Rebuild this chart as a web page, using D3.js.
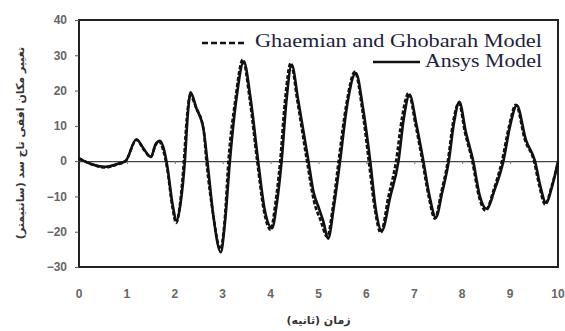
<!DOCTYPE html>
<html>
<head>
<meta charset="utf-8">
<script src="https://cdn.jsdelivr.net/npm/d3@7"></script>
<style>
  body { margin: 0; background: #fff; }
  .tickLabel { font-family: "Liberation Sans", Arial, sans-serif; font-size: 12px; font-weight: bold; fill: #666; }
  .axisTitle { font-family: "DejaVu Sans", "Noto Sans", sans-serif; font-size: 11px; font-weight: bold; fill: #333; }
  .legendText { font-family: "Liberation Serif", "Times New Roman", serif; font-size: 19px; fill: #1e1e3c; }
</style>
</head>
<body>
<div id="chart"></div>
<script>
// time (s) and crest displacement (cm)
var ansysTime = [0, 0.25, 0.55, 0.8, 0.97, 1.2, 1.35, 1.5, 1.6, 1.69, 1.78, 1.85, 1.95, 2.04, 2.12, 2.21, 2.27, 2.33, 2.45, 2.6,
                 2.68, 2.8, 2.96, 3.05, 3.15, 3.28, 3.44, 3.58, 3.74, 3.88, 4.03, 4.13, 4.23, 4.33, 4.44, 4.58, 4.79, 4.9, 5.0, 5.1,
                 5.2, 5.32, 5.45, 5.6, 5.78, 5.93, 6.08, 6.2, 6.32, 6.5, 6.67, 6.78, 6.9, 7.05, 7.19, 7.32, 7.45, 7.58, 7.72, 7.83,
                 7.94, 8.08, 8.23, 8.37, 8.51, 8.68, 8.86, 9.0, 9.14, 9.33, 9.52, 9.63, 9.75, 9.88, 10];
var ansysDisp = [0.8, -0.8, -1.6, -0.8, 0, 6.2, 3.5, 1.2, 4.8, 5.8, 3, -2, -12, -16.8, -12, 0, 13, 19.5, 15, 9,
                 0, -15, -25.8, -17, 0, 17, 28.2, 18, 0, -14, -19, -12, 0, 17, 27.3, 17, 0, -9, -13, -17,
                 -22, -13, 0, 16, 25, 15, 0, -14, -19.8, -10, 0, 12, 18.8, 10, 0, -10, -16, -9, 0, 11,
                 16.8, 8, 0, -10, -13.5, -8, 0, 10, 15.8, 6, 0, -7, -11.8, -7, 0];

var ghaemianTime = [0, 0.25, 0.55, 0.8, 0.97, 1.2, 1.35, 1.5, 1.6, 1.67, 1.76, 1.84, 1.95, 2.03, 2.11, 2.19, 2.25, 2.32, 2.45, 2.6,
                    2.66, 2.8, 2.95, 3.04, 3.12, 3.26, 3.42, 3.56, 3.72, 3.86, 4.0, 4.1, 4.2, 4.3, 4.42, 4.56, 4.76, 4.9, 5.05, 5.18,
                    5.3, 5.42, 5.58, 5.76, 5.91, 6.05, 6.18, 6.3, 6.46, 6.62, 6.74, 6.88, 7.03, 7.17, 7.3, 7.43, 7.56, 7.7, 7.81, 7.93,
                    8.06, 8.21, 8.35, 8.49, 8.66, 8.83, 8.98, 9.12, 9.31, 9.5, 9.61, 9.73, 9.87, 10];
var ghaemianDisp = [0.8, -0.8, -1.8, -0.9, 0, 6, 3.3, 1.2, 4.6, 5.6, 3, -2, -13, -17.5, -12, 0, 12, 18.5, 15, 9,
                    0, -15, -25, -17, 0, 17, 28.8, 18, 0, -14, -19.5, -12, 0, 17, 27.8, 17, 0, -11, -17, -21.5,
                    -13, 0, 16, 25.3, 15, 0, -14, -20.3, -10, 0, 12, 19.3, 10, 0, -10, -16.3, -9, 0, 11, 16.5,
                    8, 0, -10, -14, -8, 0, 10, 16, 6, 0, -7, -12.3, -7, -0.5];

var xTicks = [0, 1, 2, 3, 4, 5, 6, 7, 8, 9, 10];
var yTicks = [-30, -20, -10, 0, 10, 20, 30, 40];
var legendNames = ["Ghaemian and Ghobarah Model", "Ansys Model"];
var xTitle = "زمان (ثانیه)";
var yTitle = "تغییر مکان افقی تاج سد (سانتیمتر)";

var width = 565, height = 331,
    plotLeft = 79, plotRight = 558, plotTop = 20, plotBottom = 267;

var svg = d3.select("#chart").append("svg")
            .attr("width", width)
            .attr("height", height);

var x = d3.scaleLinear().domain([0, 10]).range([plotLeft, plotRight]);
var y = d3.scaleLinear().domain([-30, 40]).range([plotBottom, plotTop]);

// frame
svg.append("rect")
   .attr("x", plotLeft)
   .attr("y", plotTop)
   .attr("width", plotRight - plotLeft)
   .attr("height", plotBottom - plotTop)
   .style("fill", "none")
   .style("stroke", "#222")
   .style("stroke-width", 2);

// y axis: outward ticks on the left edge
svg.append("g")
   .attr("transform", "translate(" + plotLeft + ",0)")
   .call(d3.axisLeft(y).tickValues(yTicks).tickSize(4).tickPadding(8))
   .call(function(g) {
       g.select(".domain").remove();
       g.selectAll("line").style("stroke", "#555");
       g.selectAll("text").attr("class", "tickLabel").attr("font-size", null).attr("font-family", null);
   });

// zero line with small ticks hanging below it
svg.append("g")
   .attr("transform", "translate(0," + y(0) + ")")
   .call(d3.axisBottom(x).tickValues(xTicks.slice(1, -1)).tickSize(3).tickSizeOuter(0).tickFormat(""))
   .call(function(g) {
       g.select(".domain").style("stroke", "#444").style("stroke-width", 1.2);
       g.selectAll("line").style("stroke", "#777");
   });

// x tick labels sit under the frame
svg.append("g")
   .selectAll("text")
   .data(xTicks)
   .enter()
   .append("text")
   .attr("class", "tickLabel")
   .attr("x", function(d) { return x(d); })
   .attr("y", 298)
   .attr("text-anchor", "middle")
   .text(function(d) { return d; });

svg.append("text")
   .attr("class", "axisTitle")
   .attr("x", (plotLeft + plotRight) / 2)
   .attr("y", 324)
   .attr("text-anchor", "middle")
   .attr("direction", "rtl")
   .text(xTitle);

svg.append("text")
   .attr("class", "axisTitle")
   .attr("transform", "translate(24,143) rotate(-90)")
   .attr("text-anchor", "middle")
   .attr("direction", "rtl")
   .text(yTitle);

var line = d3.line()
             .x(function(d) { return x(d[0]); })
             .y(function(d) { return y(d[1]); })
             .curve(d3.curveMonotoneX);

var ghaemianData = d3.zip(ghaemianTime, ghaemianDisp);
var ansysData = d3.zip(ansysTime, ansysDisp);

svg.append("path")
   .datum(ansysData)
   .attr("d", line)
   .style("fill", "none")
   .style("stroke", "#111")
   .style("stroke-width", 2.6);

svg.append("path")
   .datum(ghaemianData)
   .attr("d", line)
   .style("fill", "none")
   .style("stroke", "#111")
   .style("stroke-width", 2.6)
   .style("stroke-dasharray", "4,2");

// legend
var legendRows = [
    {name: legendNames[0], x1: 202, x2: 247, lineY: 43, textY: 47, textW: 287, dash: "6,3"},
    {name: legendNames[1], x1: 373, x2: 420, lineY: 62, textY: 67, textW: 117, dash: null}
];

var legend = svg.append("g").attr("class", "legend");

legend.selectAll("line")
      .data(legendRows)
      .enter()
      .append("line")
      .attr("x1", function(d) { return d.x1; })
      .attr("x2", function(d) { return d.x2; })
      .attr("y1", function(d) { return d.lineY; })
      .attr("y2", function(d) { return d.lineY; })
      .style("stroke", "#111")
      .style("stroke-width", 2.4)
      .style("stroke-dasharray", function(d) { return d.dash; });

legend.selectAll("text")
      .data(legendRows)
      .enter()
      .append("text")
      .attr("class", "legendText")
      .attr("x", 542)
      .attr("y", function(d) { return d.textY; })
      .attr("text-anchor", "end")
      .attr("textLength", function(d) { return d.textW; })
      .attr("lengthAdjust", "spacingAndGlyphs")
      .text(function(d) { return d.name; });
</script>
</body>
</html>
